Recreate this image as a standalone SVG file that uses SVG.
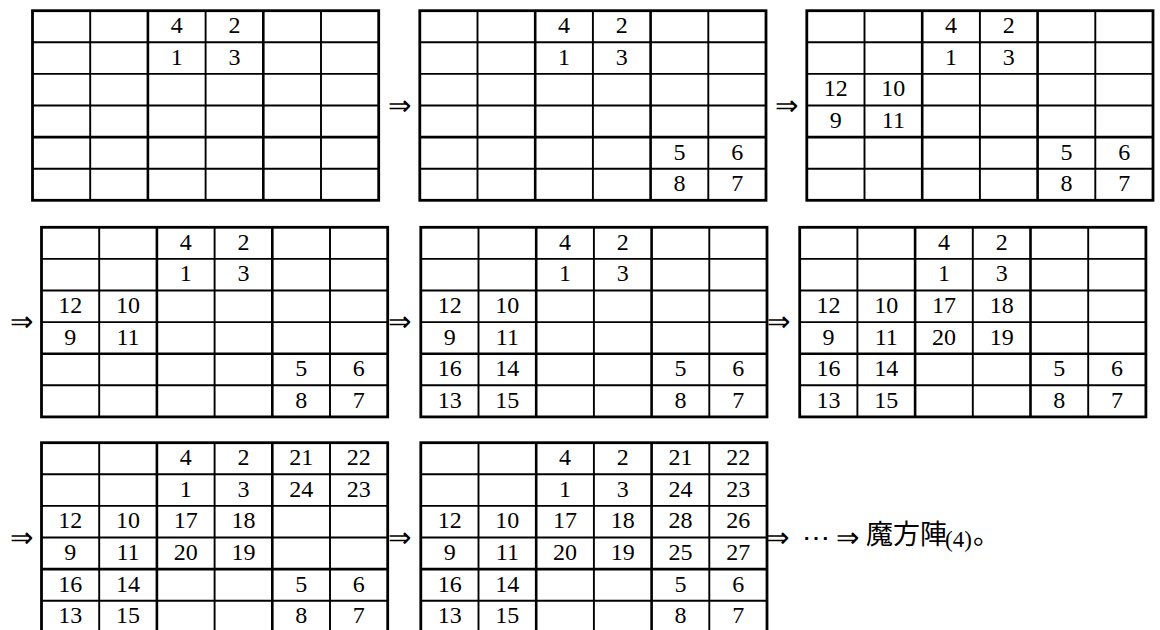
<svg xmlns="http://www.w3.org/2000/svg" xmlns:xlink="http://www.w3.org/1999/xlink" width="1160" height="630" viewBox="0 0 1160 630">
<style>
.num{font-family:"Liberation Serif","DejaVu Serif",serif;font-size:24px;text-anchor:middle;fill:#000}
.arr{font-family:"DejaVu Sans",sans-serif;font-weight:200;font-size:28px;text-anchor:middle;fill:#000}
.cjk{font-family:"Liberation Serif","Noto Sans CJK JP",serif;font-size:27px;fill:#000}
.par{font-family:"Liberation Serif",serif;font-size:23px;fill:#000}
.thin{stroke:#000;stroke-width:1.9;fill:none}
.thick{stroke:#000;stroke-width:2.6;fill:none}
.frame{stroke:#000;stroke-width:2.8;fill:#fff}
</style>
<defs>
<g id="grid">
<rect class="frame" x="0" y="0" width="346.2" height="189.6"/>
<path class="thin" d="M57.7 0V189.6M173.1 0V189.6M288.5 0V189.6M0 31.6H346.2M0 63.2H346.2M0 94.8H346.2M0 158H346.2"/>
<path class="thick" d="M115.4 0V189.6M230.8 0V189.6M0 126.4H346.2"/>
</g>
</defs>

<g id="grid1" transform="translate(32.5,10.7)">
<use xlink:href="#grid" href="#grid"/>
<text class="num" x="144.25" y="22.6">4</text><text class="num" x="201.95" y="22.6">2</text>
<text class="num" x="144.25" y="54.2">1</text><text class="num" x="201.95" y="54.2">3</text>
</g>

<g id="grid2" transform="translate(419.8,10.7)">
<use xlink:href="#grid" href="#grid"/>
<text class="num" x="144.25" y="22.6">4</text><text class="num" x="201.95" y="22.6">2</text>
<text class="num" x="144.25" y="54.2">1</text><text class="num" x="201.95" y="54.2">3</text>
<text class="num" x="259.65" y="149">5</text><text class="num" x="317.35" y="149">6</text>
<text class="num" x="259.65" y="180.6">8</text><text class="num" x="317.35" y="180.6">7</text>
</g>

<g id="grid3" transform="translate(806.8,10.7)">
<use xlink:href="#grid" href="#grid"/>
<text class="num" x="144.25" y="22.6">4</text><text class="num" x="201.95" y="22.6">2</text>
<text class="num" x="144.25" y="54.2">1</text><text class="num" x="201.95" y="54.2">3</text>
<text class="num" x="28.85" y="85.8">12</text><text class="num" x="86.55" y="85.8">10</text>
<text class="num" x="28.85" y="117.4">9</text><text class="num" x="86.55" y="117.4">11</text>
<text class="num" x="259.65" y="149">5</text><text class="num" x="317.35" y="149">6</text>
<text class="num" x="259.65" y="180.6">8</text><text class="num" x="317.35" y="180.6">7</text>
</g>

<g id="grid4" transform="translate(41.5,227.3)">
<use xlink:href="#grid" href="#grid"/>
<text class="num" x="144.25" y="22.6">4</text><text class="num" x="201.95" y="22.6">2</text>
<text class="num" x="144.25" y="54.2">1</text><text class="num" x="201.95" y="54.2">3</text>
<text class="num" x="28.85" y="85.8">12</text><text class="num" x="86.55" y="85.8">10</text>
<text class="num" x="28.85" y="117.4">9</text><text class="num" x="86.55" y="117.4">11</text>
<text class="num" x="259.65" y="149">5</text><text class="num" x="317.35" y="149">6</text>
<text class="num" x="259.65" y="180.6">8</text><text class="num" x="317.35" y="180.6">7</text>
</g>

<g id="grid5" transform="translate(420.8,227.3)">
<use xlink:href="#grid" href="#grid"/>
<text class="num" x="144.25" y="22.6">4</text><text class="num" x="201.95" y="22.6">2</text>
<text class="num" x="144.25" y="54.2">1</text><text class="num" x="201.95" y="54.2">3</text>
<text class="num" x="28.85" y="85.8">12</text><text class="num" x="86.55" y="85.8">10</text>
<text class="num" x="28.85" y="117.4">9</text><text class="num" x="86.55" y="117.4">11</text>
<text class="num" x="28.85" y="149">16</text><text class="num" x="86.55" y="149">14</text>
<text class="num" x="28.85" y="180.6">13</text><text class="num" x="86.55" y="180.6">15</text>
<text class="num" x="259.65" y="149">5</text><text class="num" x="317.35" y="149">6</text>
<text class="num" x="259.65" y="180.6">8</text><text class="num" x="317.35" y="180.6">7</text>
</g>

<g id="grid6" transform="translate(799.7,227.3)">
<use xlink:href="#grid" href="#grid"/>
<text class="num" x="144.25" y="22.6">4</text><text class="num" x="201.95" y="22.6">2</text>
<text class="num" x="144.25" y="54.2">1</text><text class="num" x="201.95" y="54.2">3</text>
<text class="num" x="28.85" y="85.8">12</text><text class="num" x="86.55" y="85.8">10</text>
<text class="num" x="144.25" y="85.8">17</text><text class="num" x="201.95" y="85.8">18</text>
<text class="num" x="28.85" y="117.4">9</text><text class="num" x="86.55" y="117.4">11</text>
<text class="num" x="144.25" y="117.4">20</text><text class="num" x="201.95" y="117.4">19</text>
<text class="num" x="28.85" y="149">16</text><text class="num" x="86.55" y="149">14</text>
<text class="num" x="28.85" y="180.6">13</text><text class="num" x="86.55" y="180.6">15</text>
<text class="num" x="259.65" y="149">5</text><text class="num" x="317.35" y="149">6</text>
<text class="num" x="259.65" y="180.6">8</text><text class="num" x="317.35" y="180.6">7</text>
</g>

<g id="grid7" transform="translate(41.5,442.7)">
<use xlink:href="#grid" href="#grid"/>
<text class="num" x="144.25" y="22.6">4</text><text class="num" x="201.95" y="22.6">2</text>
<text class="num" x="259.65" y="22.6">21</text><text class="num" x="317.35" y="22.6">22</text>
<text class="num" x="144.25" y="54.2">1</text><text class="num" x="201.95" y="54.2">3</text>
<text class="num" x="259.65" y="54.2">24</text><text class="num" x="317.35" y="54.2">23</text>
<text class="num" x="28.85" y="85.8">12</text><text class="num" x="86.55" y="85.8">10</text>
<text class="num" x="144.25" y="85.8">17</text><text class="num" x="201.95" y="85.8">18</text>
<text class="num" x="28.85" y="117.4">9</text><text class="num" x="86.55" y="117.4">11</text>
<text class="num" x="144.25" y="117.4">20</text><text class="num" x="201.95" y="117.4">19</text>
<text class="num" x="28.85" y="149">16</text><text class="num" x="86.55" y="149">14</text>
<text class="num" x="28.85" y="180.6">13</text><text class="num" x="86.55" y="180.6">15</text>
<text class="num" x="259.65" y="149">5</text><text class="num" x="317.35" y="149">6</text>
<text class="num" x="259.65" y="180.6">8</text><text class="num" x="317.35" y="180.6">7</text>
</g>

<g id="grid8" transform="translate(420.8,442.7)">
<use xlink:href="#grid" href="#grid"/>
<text class="num" x="144.25" y="22.6">4</text><text class="num" x="201.95" y="22.6">2</text>
<text class="num" x="259.65" y="22.6">21</text><text class="num" x="317.35" y="22.6">22</text>
<text class="num" x="144.25" y="54.2">1</text><text class="num" x="201.95" y="54.2">3</text>
<text class="num" x="259.65" y="54.2">24</text><text class="num" x="317.35" y="54.2">23</text>
<text class="num" x="28.85" y="85.8">12</text><text class="num" x="86.55" y="85.8">10</text>
<text class="num" x="144.25" y="85.8">17</text><text class="num" x="201.95" y="85.8">18</text>
<text class="num" x="259.65" y="85.8">28</text><text class="num" x="317.35" y="85.8">26</text>
<text class="num" x="28.85" y="117.4">9</text><text class="num" x="86.55" y="117.4">11</text>
<text class="num" x="144.25" y="117.4">20</text><text class="num" x="201.95" y="117.4">19</text>
<text class="num" x="259.65" y="117.4">25</text><text class="num" x="317.35" y="117.4">27</text>
<text class="num" x="28.85" y="149">16</text><text class="num" x="86.55" y="149">14</text>
<text class="num" x="28.85" y="180.6">13</text><text class="num" x="86.55" y="180.6">15</text>
<text class="num" x="259.65" y="149">5</text><text class="num" x="317.35" y="149">6</text>
<text class="num" x="259.65" y="180.6">8</text><text class="num" x="317.35" y="180.6">7</text>
</g>

<g id="connectors">
<text class="arr" x="399" y="114.5">⇒</text>
<text class="arr" x="786" y="114.5">⇒</text>
<text class="arr" x="21" y="330.5">⇒</text>
<text class="arr" x="399.5" y="330.5">⇒</text>
<text class="arr" x="778" y="330.5">⇒</text>
<text class="arr" x="21" y="546.5">⇒</text>
<text class="arr" x="399.5" y="546.5">⇒</text>
<text class="arr" x="777.5" y="546.5">⇒</text>
<text class="arr" x="815.5" y="546.5">⋯</text>
<text class="arr" x="847.5" y="546.5">⇒</text>
</g>

<g id="result">
<text class="cjk" x="866" y="543.5">魔方陣</text>
<text class="par" x="945" y="546.5">(4)</text>
<text class="cjk" x="973" y="543.5">。</text>
</g>
</svg>
